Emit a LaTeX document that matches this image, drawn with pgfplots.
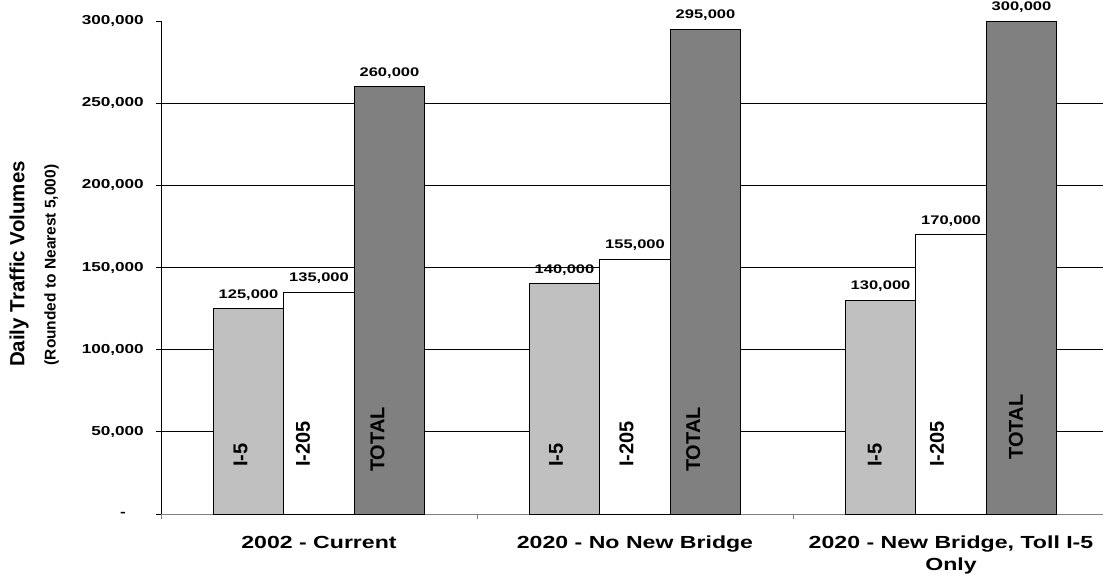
\documentclass[border=0pt]{standalone}
\usepackage{fontspec}
\setmainfont{Liberation Sans}
\usepackage{graphicx}
\usepackage{pgfplots}
\pgfplotsset{compat=1.18}
\newcommand{\W}[1]{\scalebox{1.32}[1]{#1}}
\definecolor{lgray}{HTML}{C0C0C0}
\definecolor{dgray}{HTML}{808080}
\begin{document}
\begin{tikzpicture}
\begin{axis}[
  scale only axis, width=942pt, height=493pt,
  at={(0,0)}, anchor=south west,
  clip=false,
  ybar=0pt, bar width=0.223,
  xmin=-0.5, xmax=2.481, ymin=0, ymax=300000,
  scaled y ticks=false,
  /pgf/number format/assume math mode=true,
  axis x line*=bottom, axis y line*=left,
  x axis line style={draw=gray, line width=1pt},
  y axis line style={draw=black, line width=0.8pt},
  tick align=outside,
  major tick length=5pt, minor tick length=5pt,
  xtick={0,1,2},
  major x tick style={draw=none},
  minor xtick={-0.5,0.5,1.5},
  minor x tick style={draw=gray, line width=0.8pt},
  major y tick style={draw=black, line width=0.8pt},
  xticklabels={{\W{2002 - Current}},{\W{2020 - No New Bridge}},{\W{2020 - New Bridge, Toll I-5}\\\W{Only}}},
  xticklabel style={anchor=north, align=center, inner sep=0pt, yshift=-17pt, font=\bfseries\fontsize{17.5}{22}\selectfont},
  ytick={0,50000,100000,150000,200000,250000,300000},
  yticklabels={{\W{-}\hspace*{18pt}},{\W{50,000}},{\W{100,000}},{\W{150,000}},{\W{200,000}},{\W{250,000}},{\W{300,000}}},
  yticklabel style={anchor=east, inner sep=0pt, xshift=-12pt, font=\bfseries\fontsize{13}{15}\selectfont},
  extra y ticks={50000,100000,150000,200000,250000},
  extra y tick labels={},
  extra y tick style={grid=major, major tick length=0pt},
  grid style={draw=black, line width=0.7pt},
  nodes near coords={\W{\pgfmathprintnumber[fixed,precision=0,1000 sep={,}]{\pgfplotspointmeta}}},
  every node near coord/.append style={font=\bfseries\fontsize{12.5}{14}\selectfont, inner sep=0pt, anchor=south, yshift=8pt},
]
\addplot[fill=lgray, draw=black, line width=1pt]
  coordinates {(0,125000) (1,140000) (2,130000)};
\addplot[fill=white, draw=black, line width=1pt]
  coordinates {(0,135000) (1,155000) (2,170000)};
\addplot[fill=dgray, draw=black, line width=1pt]
  coordinates {(0,260000) (1,295000) (2,300000)};
\begin{scope}[every node/.style={rotate=90, anchor=west, inner sep=0pt, font=\bfseries\fontsize{20}{24}\selectfont}]
\node at (axis cs:-0.248,28600) {I-5};
\node at (axis cs:-0.051,28600) {I-205};
\node at (axis cs:0.185,25500) {TOTAL};
\node at (axis cs:0.750,28600) {I-5};
\node at (axis cs:0.973,28600) {I-205};
\node at (axis cs:1.184,25500) {TOTAL};
\node at (axis cs:1.759,28600) {I-5};
\node at (axis cs:1.956,28600) {I-205};
\node at (axis cs:2.206,33000) {TOTAL};
\end{scope}
\end{axis}
\node[rotate=90, inner sep=0pt, font=\bfseries\fontsize{20.5}{22}\selectfont] at (-142pt,250pt) {Daily Traffic Volumes};
\node[rotate=90, inner sep=0pt, font=\bfseries\fontsize{15.5}{18}\selectfont] at (-109.5pt,249pt) {(Rounded to Nearest 5,000)};
\pgfresetboundingbox
\path[use as bounding box] (-161pt,-60pt) rectangle (942pt,514pt);
\end{tikzpicture}
\end{document}
